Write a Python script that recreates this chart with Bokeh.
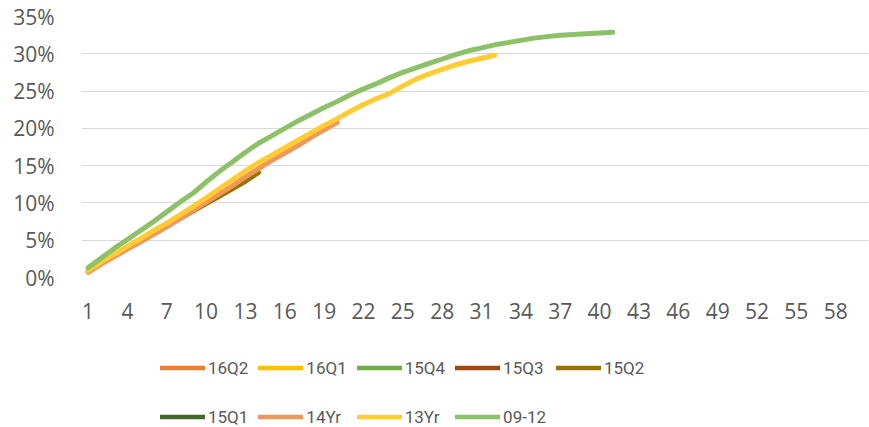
from bokeh.plotting import figure
from bokeh.layouts import column
from bokeh.models import Legend, LegendItem, FixedTicker, Range1d, ColumnDataSource
from bokeh.embed import file_html
from bokeh.resources import INLINE

# ---- data (cumulative %, by month since origination) ----
months = list(range(1, 61))
x_tick_values = months[::3]
x_tick_labels = [str(m) for m in x_tick_values]
y_tick_values = [0, 5, 10, 15, 20, 25, 30, 35]
y_tick_labels = ["0%", "5%", "10%", "15%", "20%", "25%", "30%", "35%"]

series_names = ["16Q2", "16Q1", "15Q4", "15Q3", "15Q2", "15Q1", "14Yr", "13Yr", "09-12"]
series_colors = ["#ED7D31", "#FFC000", "#70AD47", "#9E480E", "#997300",
                 "#43682B", "#F1975A", "#FFCD33", "#8CC168"]

s_16q2 = []
s_16q1 = []
s_15q4 = []
s_15q3 = []
s_15q2 = [0.8, 1.9, 2.9, 3.9, 4.9, 5.9, 6.9, 7.9, 8.9, 9.9, 10.9, 11.9, 12.9, 14.1]
s_15q1 = []
s_14yr = [0.7, 1.8, 2.8, 3.8, 4.8, 5.8, 6.8, 7.9, 9.0, 10.1, 11.2, 12.3, 13.5, 14.6,
          15.7, 16.7, 17.7, 18.8, 19.8, 20.8]
s_13yr = [0.9, 2.1, 3.1, 4.2, 5.2, 6.3, 7.3, 8.4, 9.5, 10.7, 11.9, 13.1, 14.3, 15.4,
          16.4, 17.4, 18.4, 19.4, 20.4, 21.3, 22.3, 23.2, 24.0, 24.7, 25.7, 26.6,
          27.3, 27.9, 28.5, 29.0, 29.4, 29.8]
s_0912 = [1.3, 2.6, 3.9, 5.1, 6.3, 7.5, 8.8, 10.1, 11.3, 12.8, 14.2, 15.5, 16.8, 18.0,
          19.0, 20.0, 21.0, 21.9, 22.8, 23.6, 24.5, 25.3, 26.0, 26.8, 27.5, 28.1,
          28.7, 29.3, 29.9, 30.4, 30.8, 31.2, 31.5, 31.8, 32.1, 32.3, 32.5, 32.6,
          32.7, 32.8, 32.9]

series_values = [s_16q2, s_16q1, s_15q4, s_15q3, s_15q2, s_15q1, s_14yr, s_13yr, s_0912]

FONT = "Open Sans"
GREY = "#595959"
LW = 5
LW_KEY = 4.5

# ---- main chart ----
W = 869
H1, H2 = 335, 92
p = figure(width=W, height=H1, output_backend="svg", toolbar_location=None,
           x_range=Range1d(months[0] - 0.5, months[-1] + 0.5),
           y_range=Range1d(y_tick_values[0], y_tick_values[-1]),
           min_border_left=81, min_border_right=1, min_border_top=16,
           min_border_bottom=58)
p.outline_line_color = None
p.background_fill_color = "white"
p.border_fill_color = "white"

p.xaxis.ticker = FixedTicker(ticks=x_tick_values)
p.xaxis.major_label_overrides = dict(zip(x_tick_values, x_tick_labels))
p.yaxis.ticker = FixedTicker(ticks=y_tick_values)
p.yaxis.major_label_overrides = dict(zip(y_tick_values, y_tick_labels))
for ax in (p.xaxis, p.yaxis):
    ax.axis_line_color = None
    ax.major_tick_line_color = None
    ax.minor_tick_line_color = None
    ax.major_label_text_font = FONT
    ax.major_label_text_font_size = "21px"
    ax.major_label_text_color = GREY
p.xaxis.major_label_standoff = 19
p.yaxis.major_label_standoff = 21

p.xgrid.grid_line_color = None
p.ygrid.grid_line_color = "#D9D9D9"
p.ygrid.grid_line_width = 1.2

for name, color, vals in zip(series_names, series_colors, series_values):
    src = ColumnDataSource(dict(x=months[:len(vals)], y=vals))
    p.line("x", "y", source=src, line_color=color, line_width=LW,
           line_cap="round", line_join="round")

# ---- legend strip (keys only; no data drawn here) ----
q = figure(width=W, height=H2, output_backend="svg", toolbar_location=None,
           x_axis_location=None, y_axis_location=None,
           x_range=Range1d(0, 1), y_range=Range1d(0, 1),
           min_border_left=0, min_border_right=0, min_border_top=0,
           min_border_bottom=0)
q.grid.visible = False
q.outline_line_color = None
q.background_fill_color = "white"
q.border_fill_color = "white"

items = []
for name, color in zip(series_names, series_colors):
    r = q.line(x=[float("nan")], y=[float("nan")], line_color=color,
               line_width=LW_KEY, line_cap="round")
    items.append(LegendItem(label=name, renderers=[r]))

legend = Legend(items=items, orientation="horizontal", ncols=5,
                location=(79, -9),
                glyph_width=45, glyph_height=39, label_standoff=3,
                label_height=20, spacing=10, padding=0, margin=0,
                label_text_font="Roboto", label_text_font_size="17px",
                label_text_color=GREY,
                border_line_color=None, background_fill_alpha=0)
q.add_layout(legend, "center")

layout = column(p, q, spacing=0)
open("out.html", "w").write(file_html(layout, INLINE))
